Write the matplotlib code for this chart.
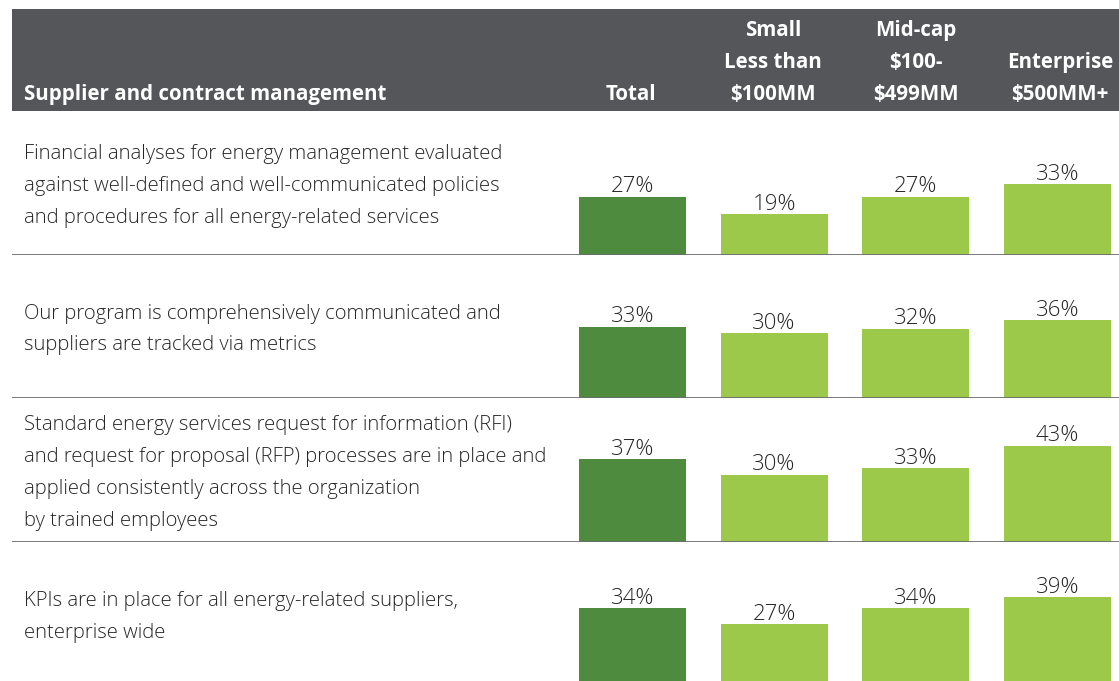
import matplotlib
matplotlib.use("Agg")
import matplotlib.pyplot as plt
from matplotlib.patches import Rectangle

# ---------------- data ----------------
section_title = "Supplier and contract management"
columns = ["Total", "Small\nLess than\n$100MM", "Mid-cap\n$100-\n$499MM", "Enterprise\n$500MM+"]
statements = [
    "Financial analyses for energy management evaluated\n"
    "against well-defined and well-communicated policies\n"
    "and procedures for all energy-related services",
    "Our program is comprehensively communicated and\n"
    "suppliers are tracked via metrics",
    "Standard energy services request for information (RFI)\n"
    "and request for proposal (RFP) processes are in place and\n"
    "applied consistently across the organization\n"
    "by trained employees",
    "KPIs are in place for all energy-related suppliers,\n"
    "enterprise wide",
]
total = [27, 33, 37, 34]
small = [19, 30, 30, 27]
midcap = [27, 32, 33, 34]
enterprise = [33, 36, 43, 39]

# ---------------- style / layout ----------------
FONT = ["Open Sans", "DejaVu Sans"]
plt.rcParams["font.family"] = FONT
W, H = 1119, 681
DPI = 100
HEADER_COLOR = "#55565a"
DARK_GREEN = "#4e8b3f"
LIGHT_GREEN = "#9dc94b"
LINE_COLOR = "#6d6e71"
TEXT_COLOR = "#262626"

left_px = 12
header_top, header_bot = 9, 111
row_h = 143.7
c0, step = 632.5, 141.6          # pixel centre of first column and column step
bar_w = 107 / step
row_ymax = [67.0, 66.0, 64.0, 63.0]
header_shift = [-2, -1, 0, 3]    # small pixel nudges of the column headings
text_drop_px = 3                 # statement block sits slightly below row centre

fig = plt.figure(figsize=(W / DPI, H / DPI), dpi=DPI)
fig.patch.set_facecolor("white")

# header band
fig.patches.append(Rectangle((left_px / W, 1 - header_bot / H), (W - left_px) / W,
                             (header_bot - header_top) / H, transform=fig.transFigure,
                             facecolor=HEADER_COLOR, edgecolor="none", zorder=0))
fig.text(24 / W, 1 - 100 / H, section_title, color="white", fontsize=14.8,
         fontweight="bold", ha="left", va="baseline")

xlim = ((left_px - c0) / step, (W - c0) / step)
for i, lab in enumerate(columns):
    fig.text((c0 + i * step + header_shift[i]) / W, 1 - 104.5 / H, lab, color="white",
             fontsize=14.8, fontweight="bold", ha="center", va="bottom",
             multialignment="center", linespacing=1.67)

series = list(zip(total, small, midcap, enterprise))
colors = [DARK_GREEN, LIGHT_GREEN, LIGHT_GREEN, LIGHT_GREEN]
for r in range(len(statements)):
    bottom_px = header_bot + (r + 1) * row_h
    ax = fig.add_axes([left_px / W, 1 - bottom_px / H, (W - left_px) / W, row_h / H])
    ax.set_xlim(*xlim)
    ax.set_ylim(0, row_ymax[r])
    ax.axis("off")
    vals = series[r]
    bars = ax.bar(range(len(vals)), vals, width=bar_w, color=colors, zorder=2)
    for b, v in zip(bars, vals):
        ax.annotate(f"{v}%", (b.get_x() + b.get_width() / 2, v), xytext=(0, -0.5),
                    textcoords="offset points", ha="center", va="bottom",
                    fontsize=16, fontweight="light", color=TEXT_COLOR)
    ax.axhline(0, color=LINE_COLOR, lw=1.3, zorder=3)
    ax.text((24 - left_px) / (W - left_px), 0.5 - text_drop_px / row_h, statements[r],
            transform=ax.transAxes, ha="left", va="center", fontsize=14.6,
            fontweight="light", color=TEXT_COLOR, linespacing=1.79)

fig.savefig("out.png", dpi=DPI)
